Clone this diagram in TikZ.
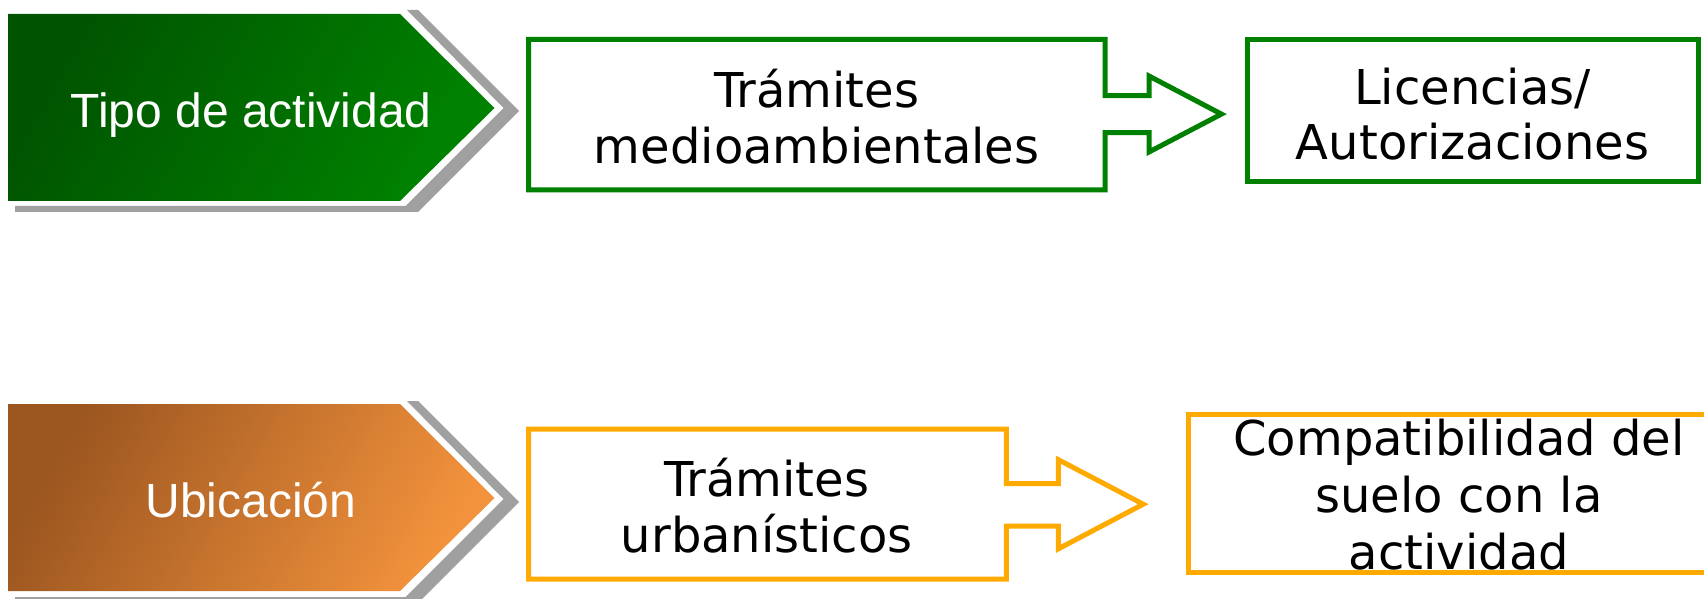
\documentclass[tikz,border=0pt]{standalone}
\usepackage{fontspec}
\setmainfont{DejaVu Sans}
\newfontfamily\arialfont{Liberation Sans}
\definecolor{boxgreen}{RGB}{0,128,0}
\definecolor{boxorange}{RGB}{255,170,0}
\definecolor{darkgreen}{RGB}{0,84,0}
\definecolor{lightgreen}{RGB}{0,130,0}
\definecolor{darkorange}{RGB}{156,86,32}
\definecolor{lightorange}{RGB}{242,146,60}
\definecolor{shadowgray}{RGB}{160,160,160}
\tikzset{
  chevtext/.style={text=white,font=\arialfont\fontsize{24}{28}\selectfont,anchor=base,inner sep=0pt},
  boxtext/.style={font=\fontsize{24}{27.7}\selectfont,align=center,anchor=base,inner sep=0pt},
  outline/.style={line width=2.5pt}
}
\begin{document}
\begin{tikzpicture}[x=0.5pt,y=-0.5pt]
    \useasboundingbox (0,0) rectangle (1704,599);
    \fill[shadowgray] (407,10) -- (418,10) -- (519,111) -- (418,212) -- (15,212) -- (15,206) -- (405.5,206) -- (503.5,108) -- cycle;
    \shade[left color=darkgreen,right color=lightgreen,shading angle=60] (8,14) -- (400,14) -- (494.5,108) -- (400,201) -- (8,201) -- cycle;
    \fill[shadowgray] (407,401) -- (418,401) -- (519,502) -- (418,603) -- (15,603) -- (15,597) -- (405.5,597) -- (503.5,499) -- cycle;
    \shade[left color=darkorange,right color=lightorange,shading angle=60] (8,404) -- (400,404) -- (494.5,498) -- (400,591) -- (8,591) -- cycle;
    \node[chevtext] (tipo) at (251,127) {Tipo de actividad};
    \node[chevtext] (ubic) at (251,517) {Ubicación};
    \draw[outline,boxgreen] (528.5,39.5) -- (1105,39.5) -- (1105,95.6) -- (1149,95.6) -- (1149,76) -- (1221.4,114.1) -- (1149,152) -- (1149,132.6) -- (1105,132.6) -- (1105,190) -- (528.5,190) -- cycle;
    \draw[outline,boxgreen] (1247.5,39.5) rectangle (1698.5,181.5);
    \draw[outline,boxorange] (528.5,429.2) -- (1006.3,429.2) -- (1006.3,483.6) -- (1058.4,483.6) -- (1058.4,459.7) -- (1143.2,504.2) -- (1058.4,548.8) -- (1058.4,526) -- (1006.3,526) -- (1006.3,579.2) -- (528.5,579.2) -- cycle;
    \draw[outline,boxorange] (1188.8,414) rectangle (1729,572.7);
    \node[boxtext] (tmed) at (816.7,163) {Trámites\\medioambientales};
    \node[boxtext] (lic) at (1472.5,159.7) {Licencias/\\Autorizaciones};
    \node[boxtext] (turb) at (766.7,552) {Trámites\\urbanísticos};
    \node[boxtext,font=\fontsize{24}{28.5}\selectfont] (comp) at (1459,569.4) {Compatibilidad del\\suelo con la\\actividad};
\end{tikzpicture}
\end{document}
